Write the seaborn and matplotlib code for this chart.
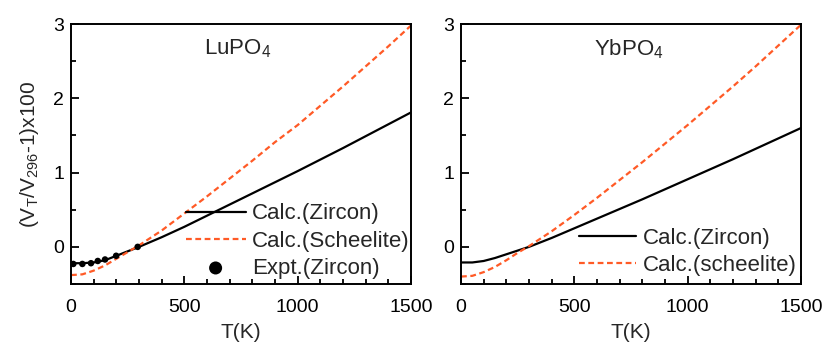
import numpy as np
import pandas as pd
import matplotlib
matplotlib.use("Agg")
import matplotlib.pyplot as plt
from matplotlib.ticker import MultipleLocator
import seaborn as sns

# Temperature grid (K)
temps = [0, 50, 100, 150, 200, 250, 300, 400, 500, 600, 700, 800,
         900, 1000, 1100, 1200, 1300, 1400, 1500]

# LuPO4 relative volume change (x100)
lu_zircon = [-0.22, -0.22, -0.21, -0.18, -0.12, -0.06, 0.00, 0.13, 0.27, 0.42,
             0.57, 0.72, 0.87, 1.02, 1.175, 1.33, 1.49, 1.65, 1.81]
lu_scheelite = [-0.38, -0.37, -0.32, -0.25, -0.16, -0.07, 0.02, 0.22, 0.45, 0.68,
                0.92, 1.16, 1.41, 1.64, 1.90, 2.16, 2.43, 2.70, 2.98]

# LuPO4 experimental points (zircon)
lu_expt_T = [10, 50, 88, 118, 150, 199, 294]
lu_expt_v = [-0.23, -0.23, -0.22, -0.19, -0.17, -0.12, 0.00]

# YbPO4 relative volume change (x100)
yb_zircon = [-0.21, -0.21, -0.19, -0.15, -0.10, -0.05, 0.00, 0.12, 0.25, 0.38,
             0.51, 0.64, 0.775, 0.91, 1.045, 1.18, 1.32, 1.46, 1.60]
yb_scheelite = [-0.40, -0.39, -0.34, -0.27, -0.18, -0.08, 0.01, 0.21, 0.43, 0.66,
                0.90, 1.14, 1.39, 1.64, 1.90, 2.16, 2.43, 2.71, 2.99]

x_ticks = [0, 500, 1000, 1500]
y_ticks = [0, 1, 2, 3]

ORANGE = "#FF5A26"
TICK_COLOR = "black"

sns.set_style("ticks")
plt.rcParams["font.family"] = ["Liberation Sans", "DejaVu Sans"]
plt.rcParams["mathtext.fontset"] = "custom"
plt.rcParams["mathtext.rm"] = "Liberation Sans"
plt.rcParams["mathtext.it"] = "Liberation Sans"

fig = plt.figure(figsize=(8.25, 3.45), dpi=100)
ax1 = fig.add_axes([0.0861, 0.1768, 0.4121, 0.7536])
ax2 = fig.add_axes([0.5588, 0.1768, 0.4121, 0.7536])

lu = pd.DataFrame({"T": temps, "zircon": lu_zircon, "scheelite": lu_scheelite})
yb = pd.DataFrame({"T": temps, "zircon": yb_zircon, "scheelite": yb_scheelite})
expt = pd.DataFrame({"T": lu_expt_T, "v": lu_expt_v})

dash = (2.6, 1.6)

# LuPO4 panel
sns.lineplot(data=lu, x="T", y="zircon", ax=ax1, color="black", lw=1.6,
             label="Calc.(Zircon)")
sns.lineplot(data=lu, x="T", y="scheelite", ax=ax1, color=ORANGE, lw=1.6,
             label="Calc.(Scheelite)")
ax1.lines[-1].set_dashes(dash)
sns.scatterplot(data=expt, x="T", y="v", ax=ax1, color="black", s=22,
                edgecolor="none", label="Expt.(Zircon)", zorder=3)

# YbPO4 panel
sns.lineplot(data=yb, x="T", y="zircon", ax=ax2, color="black", lw=1.6,
             label="Calc.(Zircon)")
sns.lineplot(data=yb, x="T", y="scheelite", ax=ax2, color=ORANGE, lw=1.6,
             label="Calc.(scheelite)")
ax2.lines[-1].set_dashes(dash)

for ax, name in [(ax1, "LuPO$_\\mathregular{4}$"), (ax2, "YbPO$_\\mathregular{4}$")]:
    ax.set_xlim(0, 1500)
    ax.set_ylim(-0.5, 3)
    ax.set_xticks(x_ticks)
    ax.set_yticks(y_ticks)
    ax.xaxis.set_minor_locator(MultipleLocator(100))
    ax.yaxis.set_minor_locator(MultipleLocator(0.5))
    ax.tick_params(which="both", direction="in", bottom=True, left=True,
                   top=False, right=False, labelsize=14, width=1.3,
                   color=TICK_COLOR, labelcolor="black")
    ax.tick_params(which="major", length=6)
    ax.tick_params(which="minor", length=3.5)
    ax.tick_params(axis="x", which="both", pad=10.5)
    ax.tick_params(axis="y", which="both", pad=5)
    for s in ax.spines.values():
        s.set_linewidth(1.4)
        s.set_color("black")
    ax.set_xlabel("T(K)", fontsize=15, labelpad=5)
    ax.set_ylabel("")
    ax.text(0.39, 0.905, name, transform=ax.transAxes, fontsize=16,
            ha="left", va="center")

ax1.set_ylabel("(V$_\\mathregular{T}$/V$_\\mathregular{296}$-1)x100", fontsize=15,
               labelpad=9)

leg1 = ax1.legend(loc="lower left", bbox_to_anchor=(0.337, 0.02), frameon=False,
                  fontsize=16, handlelength=2.7, handletextpad=0.3,
                  labelspacing=0.28, borderpad=0, borderaxespad=0,
                  markerscale=2.0)
leg2 = ax2.legend(loc="lower left", bbox_to_anchor=(0.346, 0.03), frameon=False,
                  fontsize=16, handlelength=2.6, handletextpad=0.3,
                  labelspacing=0.28, borderpad=0, borderaxespad=0)
for leg in (leg1, leg2):
    for h in leg.legend_handles:
        if hasattr(h, "set_linewidth"):
            h.set_linewidth(1.6)
leg1.legend_handles[1].set_dashes(dash)
leg2.legend_handles[1].set_dashes(dash)

fig.savefig("out.png", dpi=100)
